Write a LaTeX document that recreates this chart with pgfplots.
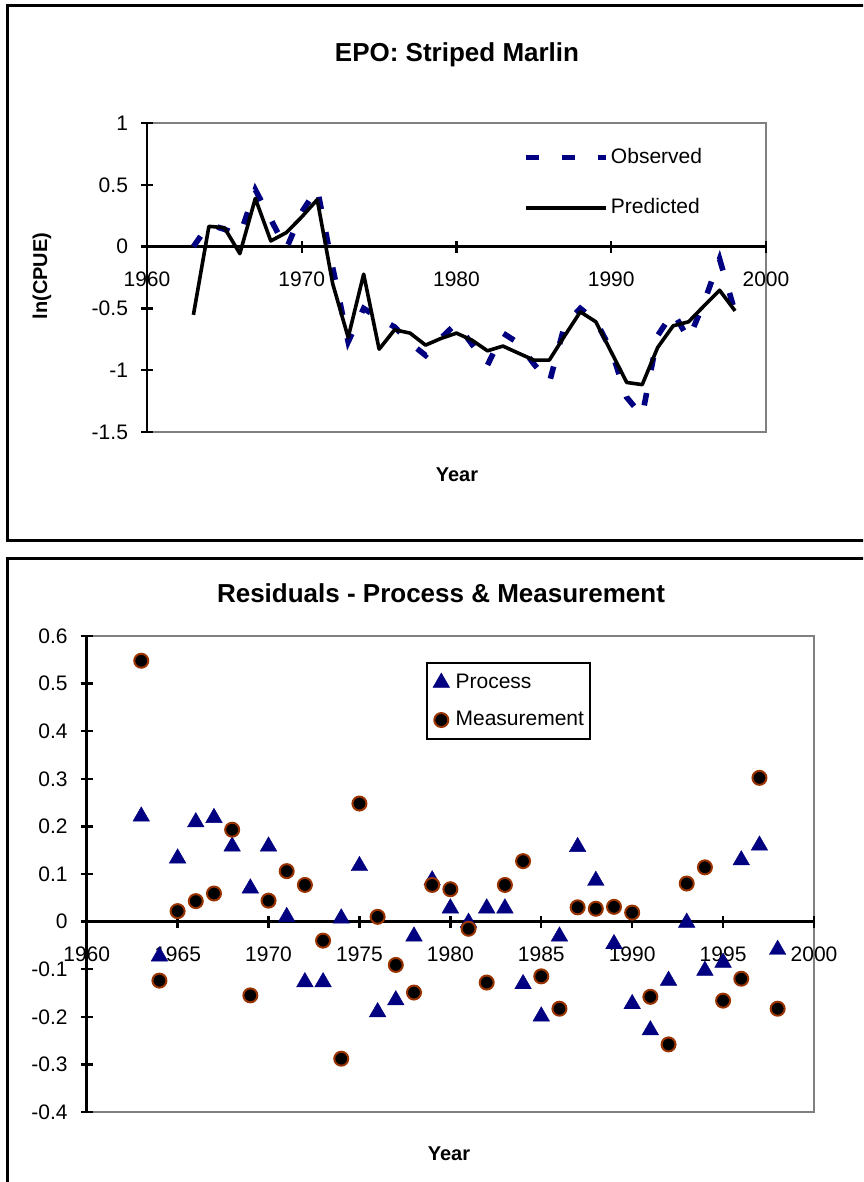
\documentclass[border=0pt]{standalone}
\usepackage{fontspec}
\setmainfont{Liberation Sans}
\usepackage{pgfplots}
\usepackage{pgfplotstable}
\pgfplotsset{compat=1.18}

\definecolor{xlnavy}{RGB}{0,0,128}
\definecolor{xlbrown}{RGB}{153,51,0}
\definecolor{xlgray}{RGB}{128,128,128}

% ln(CPUE), observed and predicted
\pgfplotstableread{
year obs pred
1963  0.00 -0.552
1964  0.18  0.164
1965  0.14  0.153
1966  0.09 -0.057
1967  0.46  0.390
1968  0.22  0.046
1969 -0.02  0.113
1970  0.28  0.240
1971  0.47  0.380
1972 -0.17 -0.300
1973 -0.77 -0.735
1974 -0.50 -0.223
1975 -0.58 -0.830
1976 -0.65 -0.673
1977 -0.78 -0.700
1978 -0.88 -0.797
1979 -0.74 -0.743
1980 -0.62 -0.700
1981 -0.79 -0.757
1982 -0.96 -0.843
1983 -0.70 -0.805
1984 -0.78 -0.862
1985 -0.95 -0.918
1986 -1.10 -0.918
1987 -0.63 -0.720
1988 -0.50 -0.528
1989 -0.60 -0.608
1990 -0.84 -0.853
1991 -1.22 -1.099
1992 -1.37 -1.117
1993 -0.72 -0.816
1994 -0.53 -0.641
1995 -0.75 -0.608
1996 -0.45 -0.479
1997 -0.10 -0.353
1998 -0.53 -0.520
}\cpuedata

% residuals
\pgfplotstableread{
year proc meas
1963  0.221  0.548
1964 -0.073 -0.124
1965  0.133  0.022
1966  0.209  0.043
1967  0.218  0.059
1968  0.158  0.193
1969  0.070 -0.155
1970  0.158  0.044
1971  0.010  0.106
1972 -0.127  0.077
1973 -0.127 -0.040
1974  0.007 -0.288
1975  0.117  0.248
1976 -0.190  0.010
1977 -0.165 -0.091
1978 -0.031 -0.149
1979  0.087  0.077
1980  0.028  0.068
1981 -0.002 -0.015
1982  0.028 -0.128
1983  0.028  0.077
1984 -0.131  0.127
1985 -0.199 -0.115
1986 -0.031 -0.183
1987  0.157  0.030
1988  0.086  0.027
1989 -0.047  0.031
1990 -0.173  0.019
1991 -0.228 -0.158
1992 -0.124 -0.258
1993 -0.002  0.080
1994 -0.103  0.114
1995 -0.086 -0.166
1996  0.129 -0.120
1997  0.160  0.302
1998 -0.059 -0.183
}\residdata

\pgfplotsset{
  xlchart/.style={
    scale only axis, anchor=south west,
    axis x line=middle, axis y line=left,
    axis line style={-, line width=1.3pt, black},
    axis background/.style={draw=xlgray, line width=1pt},
    tick align=center, major tick length=6pt,
    every tick/.style={black, line width=1.2pt},
    hide obscured x ticks=false, hide obscured y ticks=false,
    tick label style={font=\fontsize{10.5}{12}\selectfont},
    xticklabel style={anchor=north, yshift=-6pt},
    yticklabel style={anchor=east, xshift=-3pt},
    legend cell align=left,
  }
}

\begin{document}
\begin{tikzpicture}
\useasboundingbox (0pt,0pt) rectangle (431.5pt,-591pt);
\clip (0pt,0pt) rectangle (431.5pt,-591pt);

\begin{scope}[x=0.5pt, y=-0.5pt]
  \draw[line width=1.5pt] (7.5,6) rectangle (890,540);
  \draw[line width=1.5pt] (7.5,558) rectangle (890,1220);
  \node[anchor=base, font=\bfseries\fontsize{13}{15}\selectfont] at (457,62) {EPO: Striped Marlin};
  \node[anchor=base, font=\bfseries\fontsize{10}{12}\selectfont] at (457,481) {Year};
  \node[rotate=90, font=\bfseries\fontsize{10}{12}\selectfont] at (42,276) {ln(CPUE)};
  \node[anchor=base, font=\bfseries\fontsize{13}{15}\selectfont] at (441,602) {Residuals - Process \& Measurement};
  \node[anchor=base, font=\bfseries\fontsize{10}{12}\selectfont] at (449,1160) {Year};
\end{scope}

\begin{axis}[xlchart, at={(73.5pt,-216pt)}, width=309.5pt, height=154.5pt,
  xmin=1960, xmax=2000, ymin=-1.5, ymax=1,
  xtick={1960,1970,1980,1990,2000}, xticklabels={1960,1970,1980,1990,2000},
  ytick={-1.5,-1,-0.5,0,0.5,1}, yticklabels={-1.5,-1,-0.5,0,0.5,1},
  legend style={at={(0.6074,0.919)}, anchor=north west, draw=none, fill=none,
    inner sep=0pt, row sep=16pt, column sep=1pt,
    font=\fontsize{10.5}{12}\selectfont, nodes={inner sep=0pt}},
  legend image code/.code={\draw[#1] (0pt,0pt) -- (40pt,0pt);},
]
\addplot[xlnavy, line width=2.8pt, dash pattern=on 6.3pt off 11.7pt] table[x=year, y=obs] {\cpuedata};
\addlegendentry{Observed}
\addplot[black, line width=1.8pt, line join=round] table[x=year, y=pred] {\cpuedata};
\addlegendentry{Predicted}
\end{axis}

\begin{axis}[xlchart, at={(43.35pt,-556pt)}, width=363.65pt, height=238pt,
  xmin=1960, xmax=2000, ymin=-0.4, ymax=0.6,
  xtick={1960,1965,1970,1975,1980,1985,1990,1995,2000},
  xticklabels={1960,1965,1970,1975,1980,1985,1990,1995,2000},
  ytick={-0.4,-0.3,-0.2,-0.1,0,0.1,0.2,0.3,0.4,0.5,0.6},
  yticklabels={-0.4,-0.3,-0.2,-0.1,0,0.1,0.2,0.3,0.4,0.5,0.6},
  legend style={at={(0.4665,0.9454)}, anchor=north west, draw=black, line width=1pt,
    fill=white, inner xsep=3pt, inner ysep=5pt, row sep=10pt, column sep=3pt,
    font=\fontsize{10.5}{12}\selectfont, nodes={inner sep=0pt}},
  legend image code/.code={\draw[#1] plot coordinates {(0pt,0pt)};},
]
\addplot[only marks, mark=triangle*, mark size=4.8pt,
  mark options={draw=xlnavy, fill=xlnavy, line width=0.2pt}] table[x=year, y=proc] {\residdata};
\addlegendentry{Process}
\addplot[only marks, mark=*, mark size=3.5pt,
  mark options={draw=xlbrown, fill=black, line width=1pt}] table[x=year, y=meas] {\residdata};
\addlegendentry{Measurement}
\end{axis}
\end{tikzpicture}
\end{document}
